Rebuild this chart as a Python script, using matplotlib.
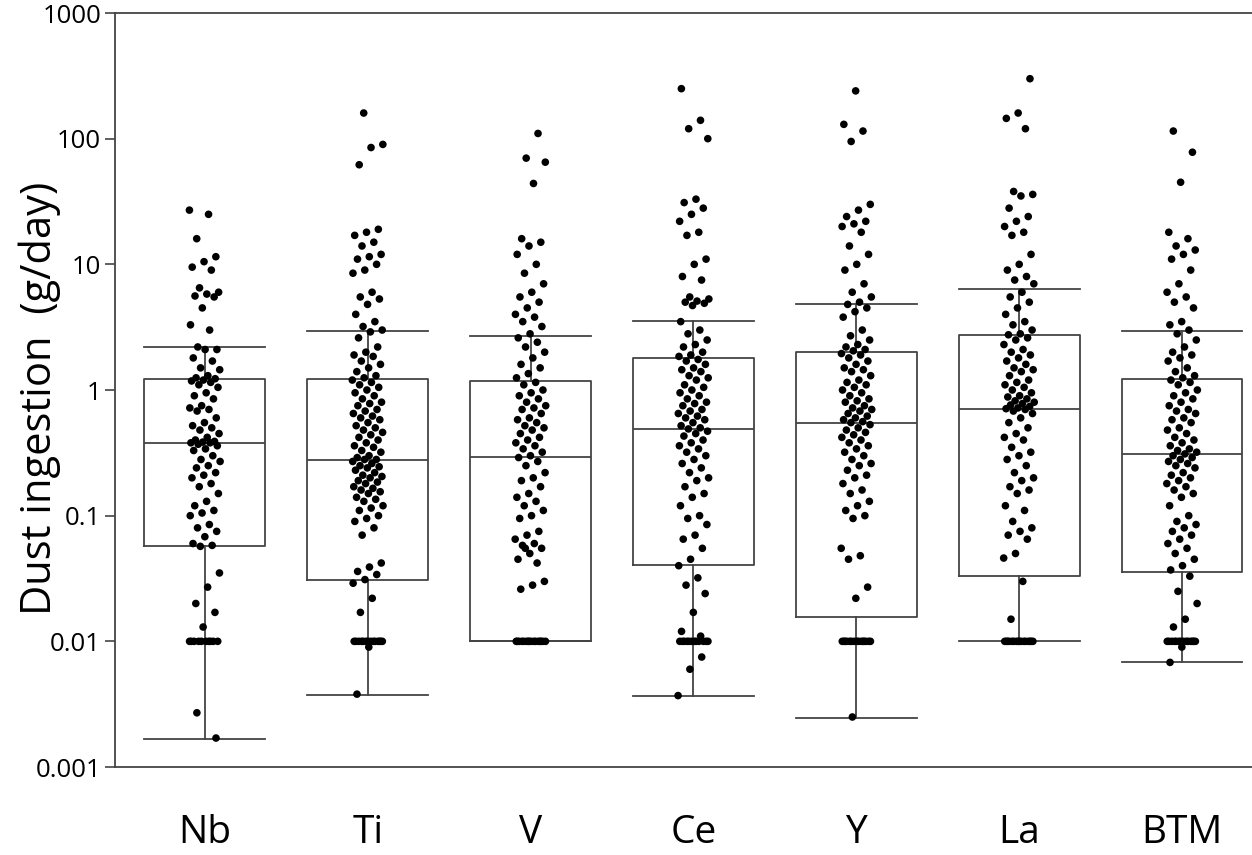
import matplotlib
matplotlib.use("Agg")
import matplotlib.pyplot as plt
import numpy as np

categories = ["Nb", "Ti", "V", "Ce", "Y", "La", "BTM"]

# box statistics (g/day)
whis_lo = [0.00167, 0.00374, 0.01, 0.00367, 0.00245, 0.01, 0.00686]
q1 = [0.057, 0.0308, 0.01, 0.0405, 0.0156, 0.0331, 0.0356]
median = [0.38, 0.277, 0.293, 0.49, 0.546, 0.706, 0.31]
q3 = [1.22, 1.22, 1.18, 1.80, 2.01, 2.74, 1.22]
whis_hi = [2.2, 2.95, 2.69, 3.54, 4.83, 6.36, 2.95]

nb = ([27, 25, 16, 11.5, 10.5, 9.5, 9.0, 6.5, 6.0, 5.8, 5.6, 5.5, 4.5, 3.3, 3.0, 2.2, 2.1, 2.1, 1.8, 1.7,
       1.5, 1.45, 1.3, 1.25, 1.23,
       1.2, 1.18, 1.15, 1.1, 1.05, 0.95, 0.9, 0.85, 0.75, 0.72, 0.7, 0.68, 0.6, 0.55, 0.52, 0.5, 0.48,
       0.45, 0.42, 0.4, 0.39, 0.385, 0.38, 0.38, 0.37,
       0.36, 0.34, 0.33, 0.3, 0.28, 0.27, 0.25, 0.24, 0.22, 0.21, 0.2, 0.18, 0.17, 0.15, 0.13, 0.12,
       0.11, 0.105, 0.1, 0.085, 0.08, 0.075, 0.068, 0.06, 0.058,
       0.057, 0.035, 0.027, 0.02, 0.017, 0.013] + [0.01] * 10 + [0.0027, 0.0017])

ti = ([160, 90, 85, 62, 19, 18, 17, 15, 14, 12, 11.5, 11, 10, 9, 8.5, 6, 5.5, 5.3, 4.8, 4.0, 3.5, 3.2,
       3.0, 2.9, 2.6, 2.2, 2.0, 1.9, 1.85, 1.7, 1.6, 1.5, 1.4, 1.3, 1.25,
       1.2, 1.15, 1.1, 1.05, 1.0, 0.95, 0.9, 0.85, 0.8, 0.78, 0.75, 0.7, 0.68, 0.65, 0.62, 0.6, 0.58,
       0.55, 0.52, 0.5, 0.48, 0.46, 0.44, 0.42, 0.4, 0.38, 0.36, 0.35, 0.33, 0.32, 0.3, 0.29, 0.28, 0.28,
       0.27, 0.26, 0.25, 0.245, 0.24, 0.23, 0.22, 0.21, 0.205, 0.2, 0.19, 0.185, 0.18, 0.17, 0.165,
       0.16, 0.155, 0.15, 0.14, 0.135, 0.13, 0.12, 0.115, 0.11, 0.1, 0.095, 0.09, 0.08, 0.07,
       0.042, 0.039, 0.036, 0.034, 0.031, 0.029, 0.022, 0.017] + [0.01] * 14 + [0.009, 0.0038])

v = ([110, 70, 65, 44, 16, 15, 14, 12, 10, 8.5, 7, 6, 5.5, 5, 4.5, 4, 3.8, 3.5, 3.2, 2.8, 2.6, 2.4,
      2.2, 2.0, 1.8, 1.6, 1.5, 1.35, 1.25,
      1.15, 1.1, 1.0, 0.95, 0.9, 0.85, 0.8, 0.75, 0.72, 0.7, 0.65, 0.6, 0.58, 0.55, 0.52, 0.5, 0.48,
      0.45, 0.42, 0.4, 0.38, 0.36, 0.34, 0.32, 0.3, 0.29,
      0.27, 0.25, 0.22, 0.2, 0.19, 0.17, 0.15, 0.14, 0.13, 0.12, 0.11, 0.1, 0.095, 0.075, 0.07, 0.065,
      0.06, 0.058, 0.055, 0.05, 0.045, 0.042, 0.055, 0.03, 0.028, 0.026] + [0.01] * 16)

ce = ([250, 140, 120, 100, 33, 31, 28, 25, 22, 18, 17, 11, 10, 8, 7.5, 5.5, 5.3, 5.1, 5.0, 4.9, 4.7,
       3.5, 3.0, 2.8, 2.5, 2.3, 2.2, 2.0, 1.9, 1.85,
       1.75, 1.7, 1.6, 1.5, 1.45, 1.4, 1.3, 1.25, 1.2, 1.1, 1.05, 1.0, 0.95, 0.9, 0.85, 0.8, 0.78,
       0.75, 0.7, 0.68, 0.65, 0.62, 0.6, 0.58, 0.55, 0.52, 0.5, 0.49,
       0.47, 0.45, 0.43, 0.4, 0.38, 0.36, 0.34, 0.32, 0.3, 0.28, 0.26, 0.24, 0.22, 0.2, 0.19, 0.17,
       0.15, 0.14, 0.12, 0.1, 0.095, 0.085, 0.07, 0.065, 0.055, 0.045,
       0.04, 0.032, 0.028, 0.024, 0.017, 0.012, 0.011] + [0.01] * 12 + [0.0075, 0.006, 0.0037])

y_el = ([240, 130, 115, 95, 30, 27, 24, 22, 21, 20, 18, 14, 12, 10, 9, 7, 6, 5.5, 5.0, 4.8, 4.5, 4.2,
         3.8, 3.0, 2.7, 2.5, 2.3, 2.2, 2.1, 2.05,
         1.95, 1.9, 1.8, 1.7, 1.6, 1.5, 1.45, 1.4, 1.3, 1.2, 1.15, 1.1, 1.05, 1.0, 0.95, 0.9, 0.85,
         0.82, 0.8, 0.75, 0.72, 0.7, 0.68, 0.65, 0.62, 0.6, 0.58, 0.56, 0.55,
         0.53, 0.5, 0.48, 0.46, 0.44, 0.42, 0.4, 0.38, 0.36, 0.34, 0.32, 0.3, 0.28, 0.26, 0.25, 0.23,
         0.21, 0.2, 0.18, 0.16, 0.15, 0.13, 0.12, 0.11, 0.1, 0.095,
         0.055, 0.048, 0.045, 0.027, 0.022] + [0.01] * 15 + [0.0025])

la = ([300, 160, 145, 120, 38, 36, 35, 28, 24, 22, 20, 18, 17, 12, 10, 9, 8, 7.5, 7.0, 6.0, 5.5, 5.0,
       4.5, 4.0, 3.5, 3.3, 3.0, 2.8, 2.75,
       2.6, 2.5, 2.3, 2.1, 2.0, 1.9, 1.8, 1.7, 1.6, 1.5, 1.45, 1.4, 1.3, 1.2, 1.15, 1.1, 1.05, 1.0,
       0.95, 0.9, 0.88, 0.85, 0.82, 0.8, 0.78, 0.76, 0.74, 0.72, 0.71, 0.7,
       0.68, 0.65, 0.6, 0.55, 0.5, 0.45, 0.42, 0.4, 0.35, 0.32, 0.3, 0.28, 0.25, 0.22, 0.2, 0.19, 0.17,
       0.16, 0.15, 0.12, 0.11, 0.09, 0.08, 0.075, 0.07, 0.065, 0.05, 0.046,
       0.03, 0.015] + [0.01] * 16)

btm = ([115, 78, 45, 18, 16, 14, 13, 12, 11, 9, 7, 6, 5.5, 5.0, 4.5, 3.5, 3.3, 3.0, 2.8, 2.5, 2.2,
        2.0, 1.9, 1.8, 1.7, 1.5, 1.4, 1.3, 1.25,
        1.2, 1.15, 1.1, 1.0, 0.95, 0.9, 0.85, 0.8, 0.75, 0.7, 0.68, 0.65, 0.6, 0.58, 0.55, 0.5, 0.48,
        0.45, 0.42, 0.4, 0.38, 0.36, 0.34, 0.33, 0.32, 0.31,
        0.3, 0.29, 0.28, 0.27, 0.26, 0.25, 0.24, 0.22, 0.21, 0.2, 0.19, 0.18, 0.17, 0.16, 0.15, 0.14,
        0.12, 0.1, 0.09, 0.085, 0.08, 0.075, 0.07, 0.065, 0.06, 0.055, 0.05, 0.045, 0.04,
        0.037, 0.033, 0.025, 0.02, 0.015, 0.013] + [0.01] * 14 + [0.009, 0.0068])

series = [nb, ti, v, ce, y_el, la, btm]

ytick_vals = [0.001, 0.01, 0.1, 1, 10, 100, 1000]
ytick_labels = ["0.001", "0.01", "0.1", "1", "10", "100", "1000"]

plt.rcParams["font.family"] = ["Open Sans", "DejaVu Sans"]

W, H = 1252, 855
fig = plt.figure(figsize=(W / 100, H / 100), dpi=100)
ax = fig.add_axes([115 / W, 1 - 767 / H, (W - 115) / W, (767 - 13) / H])

edge = "#444444"
stats = []
for i, c in enumerate(categories):
    stats.append(dict(label=c, whislo=whis_lo[i], q1=q1[i], med=median[i],
                      q3=q3[i], whishi=whis_hi[i], fliers=[]))
ax.bxp(stats, positions=range(len(categories)), widths=0.742, showfliers=False,
       boxprops=dict(color=edge, linewidth=1.3),
       medianprops=dict(color=edge, linewidth=1.3),
       whiskerprops=dict(color=edge, linewidth=1.3),
       capprops=dict(color=edge, linewidth=1.3), capwidths=0.742,
       manage_ticks=False)

golden = 0.6180339887
for i, vals in enumerate(series):
    n = len(vals)
    offs = np.array([((k * golden + 0.37 * i) % 1.0) - 0.5 for k in range(n)]) * 0.19
    ax.scatter(i + offs, vals, s=30, color="black", edgecolors="none", zorder=3)

ax.set_yscale("log")
ax.set_ylim(0.001, 1000)
ax.set_xlim(-0.552, 6.43)
ax.yaxis.set_major_locator(matplotlib.ticker.FixedLocator(ytick_vals))
ax.yaxis.set_minor_locator(matplotlib.ticker.NullLocator())
ax.set_yticklabels(ytick_labels, fontsize=18.5)
ax.tick_params(axis="y", direction="out", length=7, width=1.2, color=edge, pad=3)

# category labels below the axis
ax.set_xticks([])
for i, c in enumerate(categories):
    ax.text(i, -0.005, c, transform=ax.get_xaxis_transform(), ha="center", va="bottom",
            fontsize=28)
for t in ax.texts:
    t.set_position((t.get_position()[0], 0))
    t.set_transform(matplotlib.transforms.blended_transform_factory(
        ax.transData, fig.transFigure))
    t.set_y(3 / H)

fig.text(40 / W, 1 - 398 / H, "Dust ingestion  (g/day)", rotation=90, ha="center",
         va="center", fontsize=30)

for s in ["left", "bottom", "top"]:
    ax.spines[s].set_color(edge)
    ax.spines[s].set_linewidth(1.3)
ax.spines["right"].set_visible(False)

fig.savefig("out.png", dpi=100)
